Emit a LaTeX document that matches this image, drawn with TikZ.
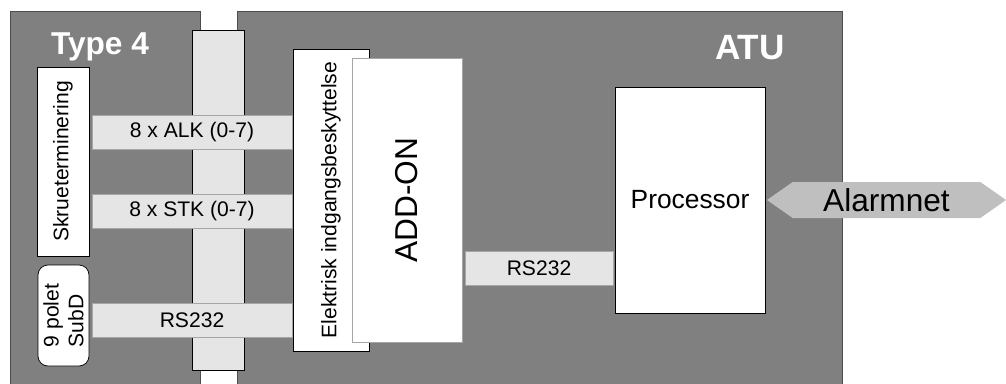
\documentclass[tikz,border=0pt]{standalone}
\usepackage{fontspec}
\setmainfont{Liberation Sans}
\usepackage{tikz}
\usetikzlibrary{shapes.symbols}
\tikzset{
  unit/.style={rectangle,fill=gray,draw=black!70,thin,inner sep=0pt},
  bus/.style={rectangle,fill=gray!20,draw=black,thin,inner sep=0pt},
  bar/.style={rectangle,fill=gray!20,draw=gray!70,thin,minimum width=40mm,
    minimum height=6.8mm,inner sep=0pt,font=\fontsize{12}{14}\selectfont},
  blok/.style={rectangle,fill=white,draw=black,thin,inner sep=0pt,
    font=\fontsize{12}{14}\selectfont},
  vblok/.style={blok,rotate=90},
  title/.style={text=white,font=\fontsize{18}{20}\selectfont\bfseries},
  net/.style={signal,signal to=west and east,signal pointer angle=70,
    fill=gray!50,draw=none,minimum width=47.8mm,minimum height=7.2mm,
    inner sep=0pt,font=\fontsize{18}{20}\selectfont}
}
\begin{document}
\begin{tikzpicture}[x=0.2mm,y=-0.2mm]
  \clip (0,0) rectangle (1006,383);
  \fill[white] (0,0) rectangle (1006,383);
  % the two housings, cut off at the bottom
  \node[unit,minimum width=38mm,minimum height=78mm] (type4) at (105,206) {};
  \node[unit,minimum width=121mm,minimum height=78mm] (atu) at (539.5,206) {};
  \node[title] (type4lab) at (100,47) {Type 4};
  \node[title,font=\fontsize{20}{22}\selectfont\bfseries] (atulab) at (750,48) {ATU};
  \node[bus,minimum width=10.4mm,minimum height=68mm] (bus) at (218,200) {};
  % terminals
  \node[vblok,minimum width=37.8mm,minimum height=10.4mm] (skrue) at (63,161.5)
    {Skrueterminering};
  \node[vblok,rounded corners=2mm,minimum width=20.2mm,minimum height=10.2mm,
    align=left] (subd) at (63.5,315.5) {9 polet\\SubD};
  \node[bar] (alk) at (192,132) {8 x ALK (0-7)};
  \node[bar] (stk) at (192,211) {8 x STK (0-7)};
  \node[bar] (rsl) at (192,320) {RS232};
  % ATU inside
  \node[vblok,minimum width=60.4mm,minimum height=15.2mm]
    (elek) at (331,200) {Elektrisk indgangsbeskyttelse};
  \node[vblok,draw=gray!70,minimum width=56.8mm,minimum height=22mm,
    font=\fontsize{18}{20}\selectfont] (addon) at (407,200) {ADD-ON};
  \node[bar,minimum width=29.6mm] (rsr) at (539,268) {RS232};
  \node[blok,minimum width=30mm,minimum height=45.2mm,
    font=\fontsize{15}{17}\selectfont] (proc) at (690,200) {Processor};
  \node[net] (alarm) at (886.5,200) {Alarmnet};
\end{tikzpicture}
\end{document}
